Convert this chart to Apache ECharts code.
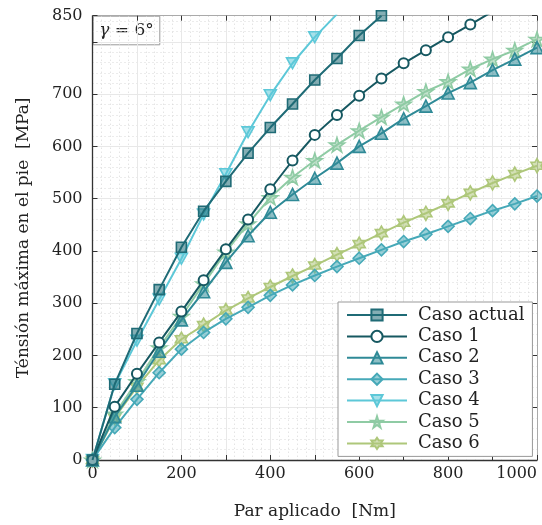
<!DOCTYPE html>
<html><head><meta charset="utf-8">
<script src="https://cdn.jsdelivr.net/npm/echarts@6/dist/echarts.min.js"></script>
<style>html,body{margin:0;padding:0;background:#fff}#c{width:542px;height:525px}</style>
</head><body><div id="c"></div>
<script>
// ---- data ----
const torque = [0,50,100,150,200,250,300,350,400,450,500,550,600,650,700,750,800,850,900,950,1000];
const seriesNames = ['Caso actual','Caso 1','Caso 2','Caso 3','Caso 4','Caso 5','Caso 6'];
const casoActual = [0,145,242,326,407,476,533,587,636,681,727,768,812,850];
const caso1 = [0,102,165,225,284,344,403,460,518,573,622,660,697,730,759,784,809,833,858];
const caso2 = [0,83,143,208,268,322,378,429,474,508,539,568,600,625,653,677,702,722,746,767,789];
const caso3 = [0,62,116,167,212,244,270,292,315,335,353,370,386,402,418,432,447,462,477,490,505];
const caso4 = [0,145,228,307,385,470,547,627,698,759,809,853];
const caso5 = [0,88,150,215,275,337,398,452,502,541,573,603,630,656,681,705,724,748,767,784,805];
const caso6 = [0,81,140,191,231,258,286,309,331,352,372,393,413,434,454,472,491,511,530,547,563];
const xTickLabels = [0,200,400,600,800,1000];
const yTickLabels = [0,100,200,300,400,500,600,700,850];

// ---- styles ----
const colors = ['#1f6b76','#165861','#2f8a97','#46a9b8','#5dc8d8','#8fcba4','#aec77a'];
const STAR5 = 'path://M0,-10 L2.245,-3.09 L9.51,-3.09 L3.633,1.18 L5.878,8.09 L0,3.82 L-5.878,8.09 L-3.633,1.18 L-9.51,-3.09 L-2.245,-3.09 Z';
const STAR6 = 'path://M0,-10 L2.887,-5 L8.66,-5 L5.77,0 L8.66,5 L2.887,5 L0,10 L-2.887,5 L-8.66,5 L-5.77,0 L-8.66,-5 L-2.887,-5 Z';
const TRI_DOWN = 'path://M0,0 L10,0 L5,9 Z';
const symbols = ['rect','emptyCircle','triangle','diamond',TRI_DOWN,STAR5,STAR6];
const sizes = [10,10,12,12,12,15,14];
const values = [casoActual,caso1,caso2,caso3,caso4,caso5,caso6];

function rgba(hex,a){const n=parseInt(hex.slice(1),16);return `rgba(${n>>16},${(n>>8)&255},${n&255},${a})`;}

const FONT = 'DejaVu Serif';
const series = seriesNames.map((name,i)=>({
  name, type:'line', xAxisIndex:0, yAxisIndex:0,
  data: values[i].map((v,j)=>[torque[j],v]),
  symbol: symbols[i], symbolSize: sizes[i], symbolKeepAspect:true,
  lineStyle:{color:colors[i],width:2},
  itemStyle: i===1 ? {color:colors[i], borderWidth:2}
                   : {color: rgba(colors[i],0.55), borderColor:colors[i], borderWidth:1.6},
  clip:true, z: 10-i, animation:false
}));

const chart = echarts.init(document.getElementById('c'),null,{renderer:'canvas'});
chart.setOption({
  animation:false,
  backgroundColor:'#fff',
  grid:{left:92.5,right:5,top:15.7,bottom:64,containLabel:false},
  xAxis:[{
    type:'value', min:0, max:1000, interval:100, position:'bottom',
    name:'Par aplicado  [Nm]', nameLocation:'middle', nameGap:43,
    nameTextStyle:{fontFamily:FONT,fontSize:17,color:'#222'},
    axisLine:{show:true,onZero:false,lineStyle:{color:'#333',width:1.3}},
    axisTick:{show:true,inside:true,length:5,lineStyle:{color:'#333'}},
    axisLabel:{fontFamily:FONT,fontSize:16,color:'#222',margin:6,alignMaxLabel:'right',
      formatter:v=> xTickLabels.includes(v)?String(v):''},
    splitLine:{show:true,lineStyle:{color:'#e8e8e8',width:1}},
    minorTick:{show:false,splitNumber:5},
    minorSplitLine:{show:true,lineStyle:{color:'#d8d8d8',width:1,type:[1,3]}}
  },{
    type:'value', min:0, max:1000, interval:100, position:'top',
    axisLine:{show:true,onZero:false,lineStyle:{color:'#aaa',width:1}},
    axisTick:{show:true,inside:true,length:5,lineStyle:{color:'#333'}},
    axisLabel:{show:false}, splitLine:{show:false}
  }],
  yAxis:[{
    type:'value', min:0, max:850, interval:100, position:'left',
    name:'Ténsión máxima en el pie  [MPa]', nameLocation:'middle', nameGap:60,
    nameTextStyle:{fontFamily:FONT,fontSize:17,color:'#222'},
    axisLine:{show:true,onZero:false,lineStyle:{color:'#333',width:1.3}},
    axisTick:{show:true,inside:true,length:5,lineStyle:{color:'#333'}},
    axisLabel:{fontFamily:FONT,fontSize:16,color:'#222',margin:10,
      formatter:v=> yTickLabels.includes(v)?String(v):''},
    splitLine:{show:true,lineStyle:{color:'#e8e8e8',width:1}},
    minorTick:{show:false,splitNumber:5},
    minorSplitLine:{show:true,lineStyle:{color:'#d8d8d8',width:1,type:[1,3]}}
  },{
    type:'value', min:0, max:850, interval:100, position:'right',
    axisLine:{show:true,onZero:false,lineStyle:{color:'#aaa',width:1}},
    axisTick:{show:true,inside:true,length:5,lineStyle:{color:'#333'}},
    axisLabel:{show:false}, splitLine:{show:false}
  }],
  legend:{
    data:seriesNames, orient:'vertical', left:338, top:302,
    backgroundColor:'#fff', borderColor:'#999', borderWidth:1, borderRadius:0,
    padding:[3,8,3,8], itemWidth:60, itemHeight:14, itemGap:1.4,
    textStyle:{fontFamily:FONT,fontSize:18,color:'#222',lineHeight:20,padding:[0,0,0,6]},
    selectedMode:false
  },
  graphic:[{
    type:'group', left:92.7, top:15.7, z:100, children:[
      {type:'rect', shape:{x:0,y:0,width:66.6,height:28.6}, style:{fill:'#fff',stroke:'#999',lineWidth:1}},
      {type:'text', x:33.3, y:14.3, style:{rich:{g:{fontFamily:FONT,fontStyle:'italic',fontSize:17,fill:'#222'},n:{fontFamily:FONT,fontSize:17,fill:'#222'}},
        text:'{g|γ}{n| = 6°}', align:'center', verticalAlign:'middle'}}
    ]
  }],
  series
});
</script></body></html>
